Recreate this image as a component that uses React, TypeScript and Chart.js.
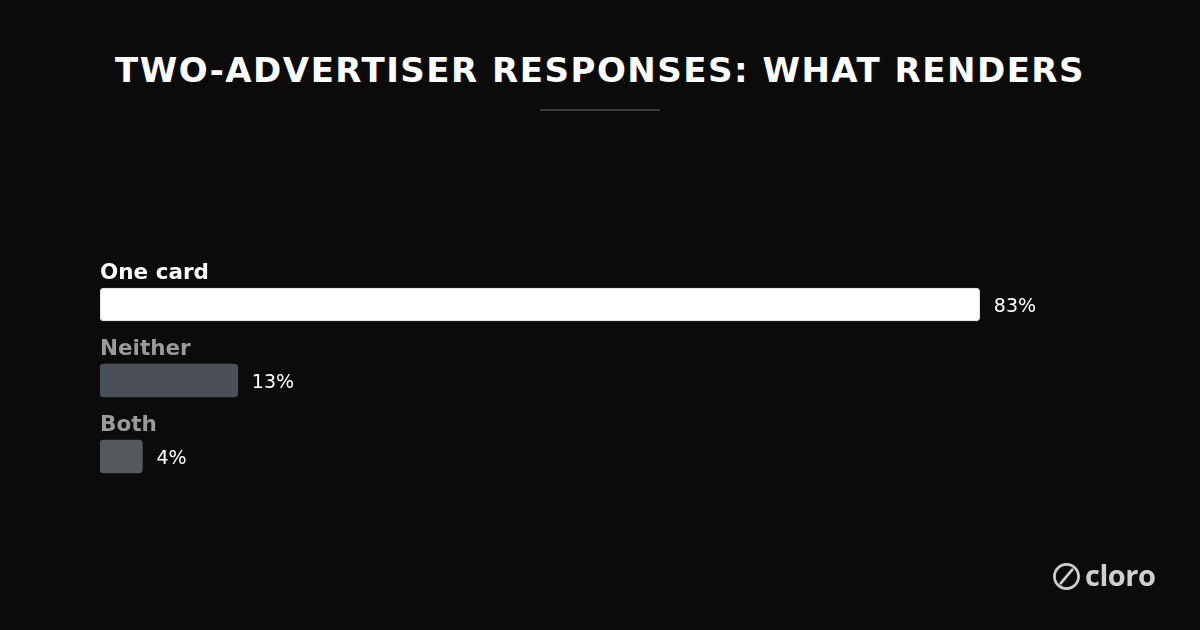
import { useEffect, useRef } from 'react'
import { Chart, registerables } from 'chart.js'
import type { Plugin } from 'chart.js'

Chart.register(...registerables)

const TITLE = 'TWO-ADVERTISER RESPONSES: WHAT RENDERS'
const categories = ['One card', 'Neither', 'Both']
const values = [83, 13, 4]
const barColors = ['#ffffff', '#4b5058', '#55595e']
const labelColors = ['#ffffff', '#9a9a9a', '#9a9a9a']

const FONT = '"DejaVu Sans", sans-serif'

const barLabels: Plugin<'bar'> = {
  id: 'barLabels',
  afterDatasetsDraw(chart) {
    const { ctx } = chart
    const meta = chart.getDatasetMeta(0)
    ctx.save()
    meta.data.forEach((bar: any, i) => {
      const top = bar.y - bar.height / 2
      // nom de la catégorie au-dessus
      ctx.font = `bold 21.5px ${FONT}`
      ctx.fillStyle = labelColors[i]
      ctx.textAlign = 'left'
      ctx.textBaseline = 'alphabetic'
      ctx.fillText(categories[i], chart.chartArea.left, top - 9)
      // valeur à droite
      ctx.font = `19px ${FONT}`
      ctx.fillStyle = '#ffffff'
      ctx.textBaseline = 'middle'
      ctx.fillText(`${values[i]}%`, bar.x + 14, bar.y + 3)
    })
    ctx.restore()
  },
}

export default function App() {
  const ref = useRef<HTMLCanvasElement>(null)
  const chart = useRef<Chart | null>(null)

  useEffect(() => {
    document.body.style.margin = '0'
    document.body.style.background = '#0b0b0b'
    if (!ref.current) return
    chart.current?.destroy()
    chart.current = new Chart(ref.current, {
      type: 'bar',
      data: {
        labels: categories,
        datasets: [{
          data: values,
          backgroundColor: barColors,
          borderColor: ['#d8d8d8', 'transparent', 'transparent'],
          borderWidth: [1, 0, 0],
          borderRadius: 4,
          borderSkipped: false,
          barThickness: 33,
        }],
      },
      options: {
        indexAxis: 'y',
        animation: false,
        responsive: false,
        maintainAspectRatio: false,
        layout: { padding: { left: 100, right: 40, top: 266.5, bottom: 135.5 } },
        plugins: { legend: { display: false }, tooltip: { enabled: false } },
        scales: {
          x: { display: false, min: 0, max: 100 },
          y: { display: false },
        },
      },
      plugins: [barLabels],
    })
    return () => chart.current?.destroy()
  }, [])

  return (
    <div style={{ position: 'relative', width: 1200, height: 630, background: '#0b0b0b', overflow: 'hidden' }}>
      <div style={{
        position: 'absolute', top: 50, left: 0, width: 1200, textAlign: 'center',
        fontFamily: FONT, fontWeight: 'bold', fontSize: 34, letterSpacing: 1.5, color: '#ffffff',
      }}>{TITLE}</div>
      <div style={{ position: 'absolute', top: 109, left: 540, width: 120, height: 2, background: '#3a3a3a' }} />
      <canvas ref={ref} width={1200} height={630} style={{ position: 'absolute', left: 0, top: 0 }} />
      <div style={{ position: 'absolute', left: 1052, top: 562, display: 'flex', alignItems: 'center', gap: 4 }}>
        <svg width={29} height={29} viewBox="0 0 30 30">
          <circle cx={15} cy={15} r={12.5} fill="none" stroke="#cfcfcf" strokeWidth={2.8} />
          <line x1={9} y1={22} x2={21} y2={8} stroke="#cfcfcf" strokeWidth={2.8} strokeLinecap="round" />
        </svg>
        <span style={{ fontFamily: '"Open Sans", sans-serif', fontWeight: 700, fontSize: 29, letterSpacing: -0.5, color: '#cfcfcf', lineHeight: '30px', marginTop: -4 }}>cloro</span>
      </div>
    </div>
  )
}
